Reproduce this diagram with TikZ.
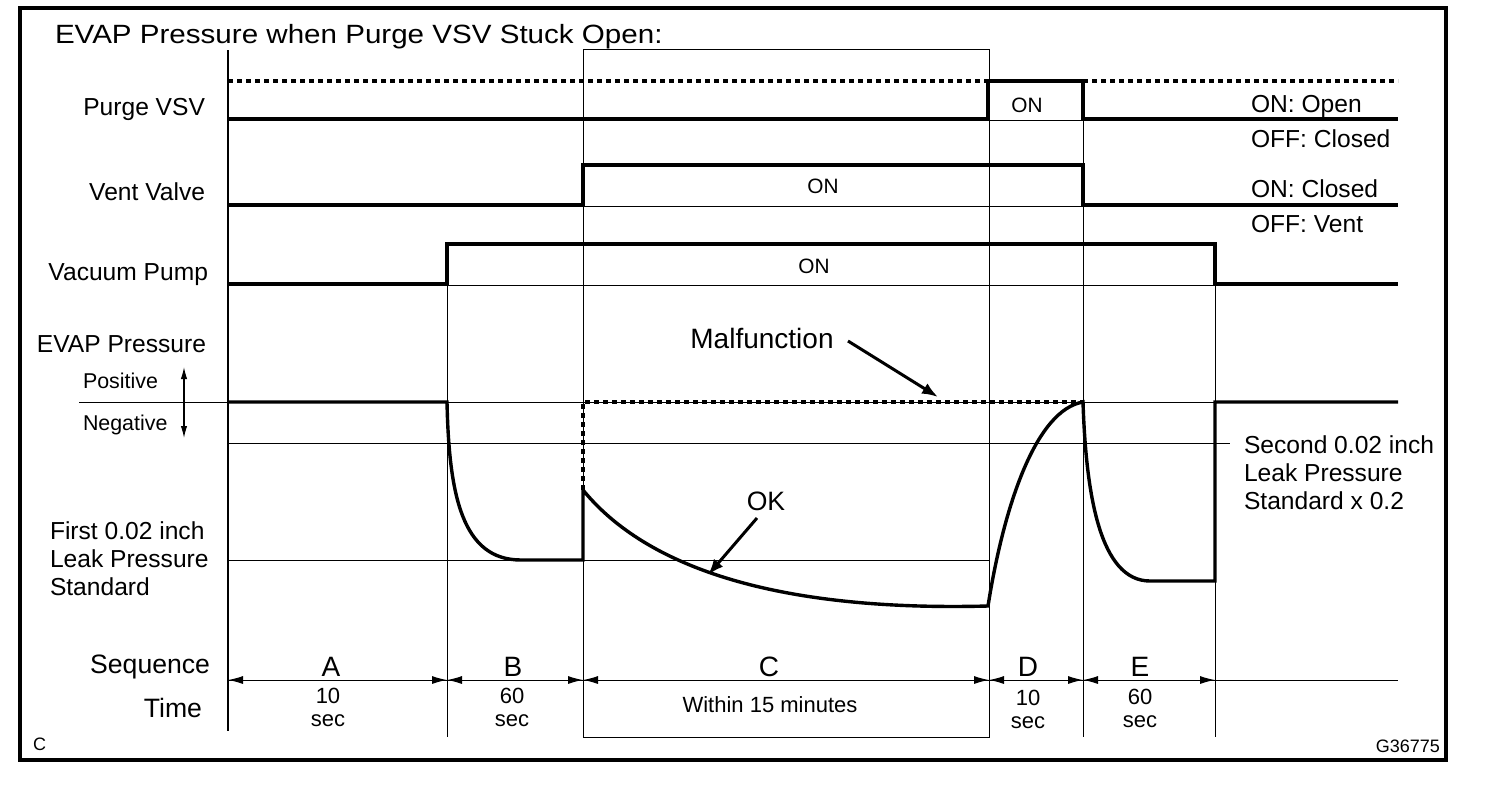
\documentclass[tikz,border=0pt]{standalone}
\usepackage{fontspec}
\setmainfont{Liberation Sans}
\newfontfamily\titlefont[FakeStretch=1.12]{Liberation Sans}
\usetikzlibrary{arrows.meta}

\begin{document}
\begin{tikzpicture}[x=0.5pt,y=-0.5pt]
\tikzset{ >={Latex[length=7.5pt,width=4pt]}, inner sep=0pt, outer sep=0pt,
  hair/.style={line width=0.5pt},
  signal/.style={line width=1.7pt, line join=miter},
  dotline/.style={line width=1.8pt, dash pattern=on 2.3pt off 2.2pt},
  heading/.style={font=\titlefont\fontsize{13.2}{15}\selectfont},
  lbl/.style={font=\fontsize{12.3}{14}\selectfont},
  seqlbl/.style={font=\fontsize{13.3}{15}\selectfont},
  letter/.style={font=\fontsize{14}{16}\selectfont},
  small/.style={font=\fontsize{10.7}{12}\selectfont},
  onlbl/.style={font=\fontsize{10.4}{12}\selectfont},
  dur/.style={font=\fontsize{11}{11.5}\selectfont, align=center},
  note/.style={font=\fontsize{9}{10}\selectfont},
  callout/.style={-{Latex[length=8pt,width=6pt]}, line width=1.5pt},
  posneg/.style={{Latex[length=6pt,width=3.2pt]}-{Latex[length=6pt,width=3.2pt]}, line width=0.6pt},
}

\useasboundingbox (0,0) rectangle (1504,788);

%\draw [lightgray, dashed](0,0) grid (1504,788);

\draw [line width=2pt] (20,8) rectangle (1446,760);

\node [heading, anchor=base west] (title) at (55,43) {EVAP Pressure when Purge VSV Stuck Open:};

\node [lbl, anchor=base east] (purge) at (205,115) {Purge VSV};
\node [lbl, anchor=base east] (vent) at (205,200) {Vent Valve};
\node [lbl, anchor=base east] (pump) at (208,280) {Vacuum Pump};
\node [lbl, anchor=base east] (evap) at (206,352) {EVAP Pressure};
\node [small, anchor=base west] (pos) at (83,388) {Positive};
\node [small, anchor=base west] (neg) at (83,430) {Negative};
\node [lbl, anchor=north west, align=left] (first) at (50,522) {First 0.02 inch\\Leak Pressure\\Standard};
\node [seqlbl, anchor=base east] (sequence) at (210,673) {Sequence};
\node [seqlbl, anchor=base east] (time) at (202,717) {Time};

\node [lbl, anchor=base west] (onopen) at (1251,112) {ON: Open};
\node [lbl, anchor=base west] (offclosed) at (1251,147) {OFF: Closed};
\node [lbl, anchor=base west] (onclosed) at (1251,197) {ON: Closed};
\node [lbl, anchor=base west] (offvent) at (1251,232) {OFF: Vent};
\node [lbl, anchor=north west, align=left] (second) at (1244,436) {Second 0.02 inch\\Leak Pressure\\Standard x 0.2};

\node [onlbl, anchor=base] (purgeon) at (1027,112) {ON};
\node [onlbl, anchor=base] (venton) at (823,193) {ON};
\node [onlbl, anchor=base] (pumpon) at (814,273) {ON};

\node [letter, anchor=base] (malf) at (762,348) {Malfunction};
\node [seqlbl, anchor=base] (ok) at (766,510) {OK};

\node [letter, anchor=base] (seqA) at (331,676) {A};
\node [letter, anchor=base] (seqB) at (513,676) {B};
\node [letter, anchor=base] (seqC) at (769,676) {C};
\node [letter, anchor=base] (seqD) at (1028,676) {D};
\node [letter, anchor=base] (seqE) at (1140,676) {E};

\node [dur, anchor=north] (durA) at (328,688) {10\\sec};
\node [dur, anchor=north] (durB) at (512,688) {60\\sec};
\node [dur, anchor=north] (durC) at (770,697) {Within 15 minutes};
\node [dur, anchor=north] (durD) at (1028,690) {10\\sec};
\node [dur, anchor=north] (durE) at (1140,689) {60\\sec};

\node [note, anchor=base west] (figc) at (33,750) {C};
\node [note, anchor=base east] (figid) at (1440,752) {G36775};

\coordinate (tA) at (228,680);
\coordinate (tB) at (447,680);
\coordinate (tC) at (583,680);
\coordinate (tD) at (989,680);
\coordinate (tE) at (1083,680);
\coordinate (tF) at (1215,680);
\coordinate (tEnd) at (1398,680);

\coordinate (posTip) at (184,367);
\coordinate (negTip) at (184,438);
\coordinate (malfTail) at (848,341);
\coordinate (malfTip) at (938,397);
\coordinate (okTail) at (757,518);
\coordinate (okTip) at (708,575);

% grid of the chart
\draw [hair] (583,49) rectangle (989,737);
\draw [line width=1pt] (228,50) -- (228,731);
\draw [hair] (447,284) -- (447,737);
\draw [hair] (1083,119) -- (1083,737);
\draw [hair] (1215,284) -- (1215,737);

\draw [hair] (228,120) -- (1398,120);
\draw [hair] (228,206) -- (1398,206);
\draw [hair] (228,285) -- (1398,285);
\draw [hair] (79,402) -- (1398,402);
\draw [hair] (228,443) -- (1230,443);
\draw [hair] (228,560) -- (990,560);
\draw [hair] (tA) -- (tEnd);

% signals
\draw [dotline] (228,81) -- (988,81);
\draw [dotline] (1083,81) -- (1398,81);
\draw [signal] (228,119) -- (988,119) -- (988,81) -- (1083,81) -- (1083,119) -- (1398,119);
\draw [signal] (228,205) -- (583,205) -- (583,165) -- (1083,165) -- (1083,205) -- (1398,205);
\draw [signal] (228,284) -- (447,284) -- (447,244) -- (1215,244) -- (1215,284) -- (1398,284);

% pressure
\draw [dotline] (583,490) -- (583,402) -- (1083,402);
\draw [signal] (228,402) -- (447,402) .. controls (449,495) and (462,560) .. (521,560) -- (583,560) -- (583,490)
  .. controls (640,560) and (760,612) .. (988,606) .. controls (1004,505) and (1036,410) .. (1083,402)
  .. controls (1086,495) and (1100,581) .. (1150,581) -- (1215,581) -- (1215,402) -- (1398,402);

\draw [posneg] (posTip) -- (negTip);
\draw [callout] (malfTail) -- (malfTip);
\draw [callout] (okTail) -- (okTip);

% sequence
\draw [hair, <->] (tA) -- (tB);
\draw [hair, <->] (tB) -- (tC);
\draw [hair, <->] (tC) -- (tD);
\draw [hair, <->] (tD) -- (tE);
\draw [hair, <->] (tE) -- (tF);

\end{tikzpicture}
\end{document}
